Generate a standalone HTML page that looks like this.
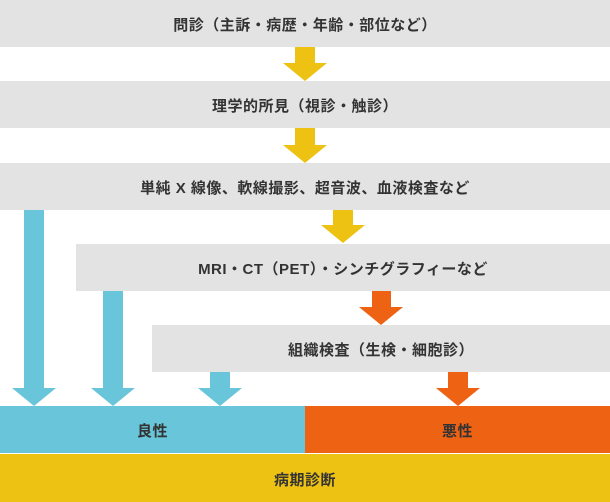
<!DOCTYPE html>
<html><head><meta charset="utf-8"><style>
body{margin:0;width:610px;height:502px;position:relative;background:#fff;overflow:hidden;font-family:"Liberation Sans","Noto Sans CJK JP",sans-serif;font-weight:bold;font-size:15px;letter-spacing:0.5px;color:#333}
.b{position:absolute;background:#e3e3e3;display:flex;align-items:center;justify-content:center;height:46px;padding-top:2px;box-sizing:border-box}
svg{position:absolute;left:0;top:0}
</style></head><body>
<div class="b" style="left:0;top:0;width:610px;height:47px">問診（主訴・病歴・年齢・部位など）</div>
<div class="b" style="left:0;top:81px;width:610px;height:47px">理学的所見（視診・触診）</div>
<div class="b" style="left:0;top:163px;width:610px;height:47px">単純 X 線像、軟線撮影、超音波、血液検査など</div>
<div class="b" style="left:76px;top:244px;width:534px;height:47px">MRI・CT（PET）・シンチグラフィーなど</div>
<div class="b" style="left:152px;top:325px;width:458px;height:47px">組織検査（生検・細胞診）</div>
<div class="b" style="left:0;top:406px;width:305px;height:47px;background:#69c5da">良性</div>
<div class="b" style="left:305px;top:406px;width:305px;height:47px;background:#ee6213">悪性</div>
<div class="b" style="left:0;top:454px;width:610px;height:48px;background:#eec212">病期診断</div>
<svg width="610" height="502">
<g fill="#eec212">
<polygon points="295,47 315,47 315,63 327,63 305,81 283,63 295,63"/>
<polygon points="295,128 315,128 315,145 327,145 305,163 283,145 295,145"/>
<polygon points="333,210 353,210 353,225 365,225 343,243 321,225 333,225"/>
</g>
<g fill="#69c5da">
<polygon points="24,210 44,210 44,388 56,388 34,406 12,388 24,388"/>
<polygon points="103,291 123,291 123,388 135,388 113,406 91,388 103,388"/>
<polygon points="210,372 230,372 230,388 242,388 220,406 198,388 210,388"/>
</g>
<g fill="#ee6213">
<polygon points="372,291 391,291 391,307 403,307 381,325 359,307 372,307"/>
<polygon points="448,372 468,372 468,388 480,388 458,406 436,388 448,388"/>
</g>
</svg>
</body></html>
